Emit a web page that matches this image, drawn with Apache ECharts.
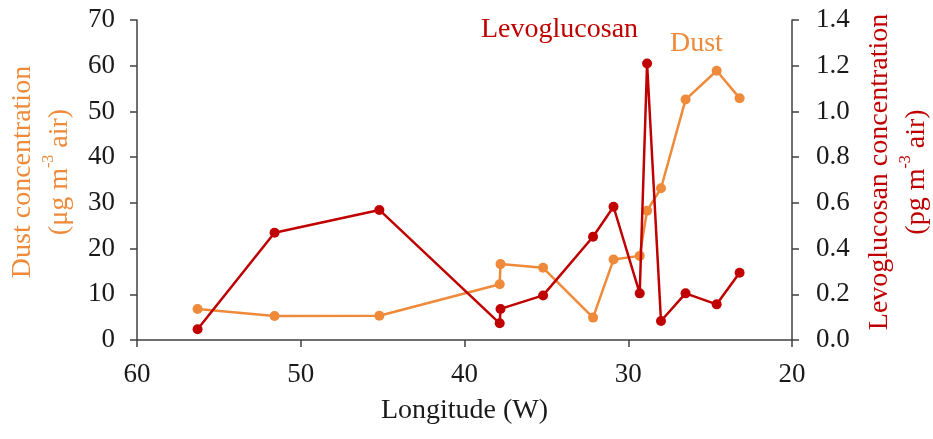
<!DOCTYPE html>
<html>
<head>
<meta charset="utf-8">
<script src="https://cdn.jsdelivr.net/npm/echarts@6/dist/echarts.min.js"></script>
<style>html,body{margin:0;padding:0;background:#fff}#c{width:933px;height:439px}</style>
</head>
<body>
<div id="c"></div>
<script>
var longitude = [56.3, 51.6, 45.2, 37.85, 37.8, 35.2, 32.15, 30.9, 29.3, 28.85, 28.0, 26.5, 24.6, 23.2];
var dust = [6.8, 5.25, 5.3, 12.2, 16.6, 15.8, 4.9, 17.6, 18.4, 28.3, 33.2, 52.6, 58.9, 52.9];
var levoglucosan = [0.047, 0.469, 0.569, 0.073, 0.136, 0.195, 0.452, 0.583, 0.204, 1.21, 0.083, 0.204, 0.156, 0.294];
var xTicks = [20, 30, 40, 50, 60];
var leftTicks = [0, 10, 20, 30, 40, 50, 60, 70];
var rightTicks = [0, 0.2, 0.4, 0.6, 0.8, 1.0, 1.2, 1.4];

var RED = '#C00000', ORANGE = '#EE8A3A', AX = '#404040';
var FONT = '"Liberation Serif", "Times New Roman", serif';

function pairs(xs, ys) { return xs.map(function (x, i) { return [x, ys[i]]; }); }

var chart = echarts.init(document.getElementById('c'), null, { renderer: 'canvas' });
var axisCommon = {
  axisLine: { show: true, lineStyle: { color: AX, width: 1.5 } },
  axisTick: { show: true, length: 7, inside: false, lineStyle: { color: AX, width: 1.5 } },
  axisLabel: { color: '#1a1a1a', fontFamily: FONT, fontSize: 27 },
  splitLine: { show: false }
};
chart.setOption({
  animation: false,
  backgroundColor: '#fff',
  grid: { left: 137, right: 141, top: 20, bottom: 99, containLabel: false, outerBoundsMode: 'none' },
  xAxis: Object.assign({}, axisCommon, {
    type: 'value', inverse: true, min: xTicks[0], max: xTicks[xTicks.length - 1], interval: 10,
    axisLabel: Object.assign({}, axisCommon.axisLabel, { margin: 21 }),
    name: 'Longitude (W)', nameLocation: 'middle', nameGap: 57,
    nameTextStyle: { color: '#1a1a1a', fontFamily: FONT, fontSize: 28 }
  }),
  yAxis: [
    Object.assign({}, axisCommon, {
      type: 'value', min: leftTicks[0], max: leftTicks[leftTicks.length - 1], interval: 10,
      axisLabel: Object.assign({}, axisCommon.axisLabel, { margin: 22 })
    }),
    Object.assign({}, axisCommon, {
      type: 'value', position: 'right', min: rightTicks[0], max: rightTicks[rightTicks.length - 1], interval: 0.2,
      axisLabel: Object.assign({}, axisCommon.axisLabel, { margin: 24, formatter: function (v) { return v.toFixed(1); } })
    })
  ],
  series: [
    {
      name: 'Dust', type: 'line', yAxisIndex: 0, data: pairs(longitude, dust),
      symbol: 'circle', symbolSize: 10, lineStyle: { color: ORANGE, width: 2.5 },
      itemStyle: { color: ORANGE }, z: 2
    },
    {
      name: 'Levoglucosan', type: 'line', yAxisIndex: 1, data: pairs(longitude, levoglucosan),
      symbol: 'circle', symbolSize: 10, lineStyle: { color: RED, width: 2.5 },
      itemStyle: { color: RED }, z: 3
    }
  ],
  graphic: [
    { type: 'text', x: 481, y: 30, style: { text: 'Levoglucosan', fill: RED, font: '28px ' + FONT, textAlign: 'left', textVerticalAlign: 'middle' } },
    { type: 'text', x: 670, y: 44, style: { text: 'Dust', fill: ORANGE, font: '28px ' + FONT, textAlign: 'left', textVerticalAlign: 'middle' } },
    { type: 'text', x: 41, y: 172, rotation: Math.PI / 2,
      style: { text: '{a|Dust concentration}\n{a|(μg m}{s|-3}{a| air)}', textAlign: 'center', textVerticalAlign: 'middle',
        rich: { a: { fill: ORANGE, fontFamily: FONT, fontSize: 28, lineHeight: 37 }, s: { fill: ORANGE, fontFamily: FONT, fontSize: 16, verticalAlign: 'top', lineHeight: 37, padding: [0, 0, 6, 0] } } } },
    { type: 'text', x: 898, y: 172, rotation: Math.PI / 2,
      style: { text: '{a|Levoglucosan concentration}\n{a|(pg m}{s|-3}{a| air)}', textAlign: 'center', textVerticalAlign: 'middle',
        rich: { a: { fill: RED, fontFamily: FONT, fontSize: 28, lineHeight: 37 }, s: { fill: RED, fontFamily: FONT, fontSize: 16, verticalAlign: 'top', lineHeight: 37, padding: [0, 0, 6, 0] } } } }
  ]
});
</script>
</body>
</html>
